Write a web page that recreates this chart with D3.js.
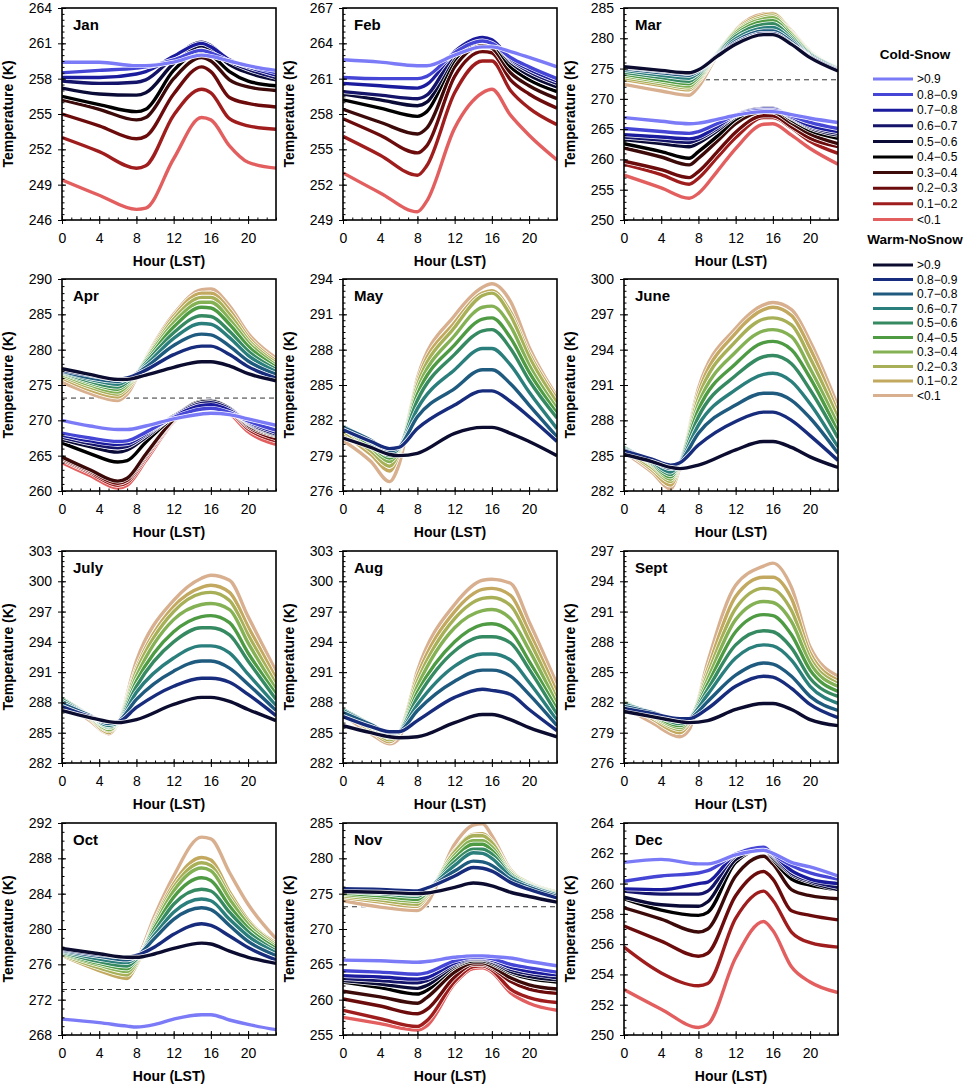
<!DOCTYPE html>
<html>
<head>
<meta charset="utf-8">
<script src="https://cdn.jsdelivr.net/npm/d3@7"></script>
<style>
  body { margin: 0; background: #fff; }
  svg { display: block; font-family: "Liberation Sans", Arial, Helvetica, sans-serif; }
</style>
</head>
<body>
<svg id="chart" width="964" height="1086"></svg>
<script>
// Diurnal temperature by snow-cover fraction class, one panel per month

const months = ["Jan", "Feb", "Mar", "Apr", "May", "June", "July", "Aug", "Sept", "Oct", "Nov", "Dec"];
const classLabels = [">0.9", "0.8\u22120.9", "0.7\u22120.8", "0.6\u22120.7", "0.5\u22120.6",
                     "0.4\u22120.5", "0.3\u22120.4", "0.2\u22120.3", "0.1\u22120.2", "<0.1"];
const coldColors = ["#7b7bf7", "#4646d6", "#1b1b9e", "#14146b", "#0b0b38",
                    "#000000", "#3d0a0a", "#6b0b0b", "#a01d1d", "#e35f5f"];
const warmColors = ["#0b0c30", "#172c7c", "#1f5a7f", "#2a7f7c", "#368a62",
                    "#4e9b43", "#85b155", "#a8b057", "#c2a95f", "#d8b08f"];

// y axis ranges and tick steps per month
const yMin = [246, 249, 250, 260, 276, 282, 282, 282, 276, 268, 255, 250];
const yMax = [264, 267, 285, 290, 294, 300, 303, 303, 297, 292, 285, 264];
const yStep = [3, 3, 5, 5, 3, 3, 3, 3, 3, 4, 5, 2];
const yMinor = [0.5, 0.5, 1, 1, 0.5, 0.5, 0.5, 0.5, 0.5, 1, 1, 0.5];
const hourTicks = [0, 4, 8, 12, 16, 20];
const freezing = 273.15;

// ---- Jan ----
const janHours = [0, 4, 8, 9, 12, 15, 16, 18, 20, 23];
const janCold = [
  [259.4, 259.4, 259.1, 259.1, 259.4, 260.0, 259.9, 259.5, 259.1, 258.7],
  [258.5, 258.7, 258.9, 259.0, 259.6, 260.4, 260.2, 259.5, 259.1, 258.5],
  [258.1, 258.1, 258.4, 258.6, 259.9, 261.0, 260.7, 259.6, 259.0, 258.3],
  [257.8, 257.6, 257.7, 257.9, 259.8, 261.1, 260.8, 259.5, 258.8, 258.1],
  [257.2, 256.7, 256.6, 256.8, 259.3, 260.8, 260.5, 259.2, 258.5, 257.9],
  [256.5, 255.8, 255.2, 255.4, 258.7, 260.3, 260.0, 258.6, 257.8, 257.4],
  [256.2, 255.4, 254.5, 254.7, 258.0, 259.8, 259.5, 257.9, 257.3, 257.0],
  [255.0, 254.0, 252.9, 253.1, 256.7, 259.0, 258.6, 256.4, 255.9, 255.6],
  [253.0, 251.8, 250.4, 250.6, 254.9, 257.1, 256.8, 254.6, 254.0, 253.7],
  [249.4, 248.1, 246.9, 247.0, 251.2, 254.7, 254.5, 252.3, 250.9, 250.4]
];

// ---- Feb ----
const febHours = [0, 4, 8, 9, 12, 15, 16, 18, 20, 23];
const febCold = [
  [262.6, 262.4, 262.1, 262.1, 263.0, 263.7, 263.7, 263.3, 262.8, 262.0],
  [261.1, 261.0, 261.0, 261.2, 263.2, 264.2, 264.0, 262.8, 262.0, 261.0],
  [260.6, 260.4, 260.2, 260.5, 263.3, 264.5, 264.3, 262.7, 261.8, 260.8],
  [259.9, 259.6, 259.3, 259.6, 263.1, 264.5, 264.3, 262.6, 261.6, 260.6],
  [259.7, 259.2, 258.7, 259.0, 262.9, 264.4, 264.2, 262.4, 261.3, 260.3],
  [259.2, 258.5, 257.8, 258.2, 262.6, 264.2, 264.0, 262.0, 260.9, 259.9],
  [258.4, 257.3, 256.3, 256.8, 262.0, 263.8, 263.6, 261.5, 260.4, 259.3],
  [257.6, 256.2, 254.7, 255.3, 261.2, 263.3, 263.2, 260.9, 259.7, 258.5],
  [256.1, 254.5, 252.8, 253.6, 259.8, 262.5, 262.5, 260.0, 258.5, 257.1],
  [253.0, 251.3, 249.7, 250.6, 256.8, 259.8, 260.1, 257.9, 256.2, 254.1]
];

// ---- Mar ----
const marHours = [0, 4, 7, 8, 10, 12, 15, 16, 18, 20, 23];
const marCold = [
  [266.9, 266.3, 265.9, 266.0, 266.6, 267.3, 267.9, 267.9, 267.4, 266.8, 266.1],
  [265.1, 264.6, 264.3, 264.6, 265.9, 267.3, 268.1, 268.1, 267.2, 266.1, 265.1],
  [264.1, 263.7, 263.4, 263.7, 265.4, 267.3, 268.3, 268.3, 267.0, 265.6, 264.6],
  [263.7, 263.2, 262.8, 263.3, 265.1, 267.3, 268.4, 268.4, 266.9, 265.4, 264.3],
  [263.3, 262.6, 262.1, 262.7, 264.7, 267.1, 268.4, 268.4, 266.8, 265.2, 264.0],
  [262.6, 261.3, 260.2, 261.3, 263.8, 266.6, 268.4, 268.3, 266.5, 264.8, 263.5],
  [261.9, 260.4, 259.1, 260.2, 263.0, 265.9, 267.9, 267.8, 266.0, 264.2, 262.6],
  [259.7, 258.3, 257.0, 258.0, 261.2, 264.5, 267.2, 267.2, 265.4, 263.5, 262.1],
  [259.2, 257.5, 255.9, 256.9, 260.3, 263.6, 266.9, 266.9, 265.2, 263.0, 261.0],
  [257.4, 255.3, 253.6, 254.4, 258.0, 261.8, 265.8, 265.9, 264.0, 261.8, 259.2]
];
const marWarm = [
  [275.3, 274.7, 274.3, 274.8, 277.0, 279.0, 280.6, 280.6, 279.0, 276.8, 274.6],
  [275.2, 274.6, 274.2, 274.8, 277.1, 279.2, 280.8, 280.8, 279.1, 276.9, 274.7],
  [275.0, 274.3, 273.9, 274.6, 277.2, 279.5, 281.2, 281.2, 279.4, 277.0, 274.8],
  [274.7, 273.9, 273.4, 274.3, 277.3, 279.9, 281.7, 281.8, 279.7, 277.2, 274.9],
  [274.4, 273.5, 272.9, 274.0, 277.4, 280.3, 282.3, 282.4, 280.0, 277.4, 275.0],
  [274.1, 273.1, 272.5, 273.7, 277.5, 280.6, 282.8, 282.9, 280.3, 277.5, 275.0],
  [273.8, 272.8, 272.1, 273.4, 277.5, 280.9, 283.2, 283.4, 280.6, 277.6, 275.1],
  [273.5, 272.5, 271.8, 273.1, 277.5, 281.1, 283.5, 283.7, 280.8, 277.7, 275.1],
  [273.2, 272.2, 271.5, 272.8, 277.4, 281.3, 283.8, 284.0, 281.0, 277.8, 275.1],
  [272.4, 271.3, 270.6, 272.0, 277.2, 281.4, 284.0, 284.1, 281.2, 277.8, 275.0]
];

// ---- Apr ----
const aprHours = [0, 3, 6, 7, 9, 12, 15, 16, 18, 20, 23];
const aprCold = [
  [270.0, 269.2, 268.7, 268.7, 269.2, 270.2, 270.9, 271.0, 270.8, 270.2, 269.3],
  [268.2, 267.5, 267.0, 267.1, 268.3, 270.4, 271.6, 271.7, 271.1, 269.9, 268.6],
  [267.9, 267.1, 266.6, 266.7, 268.1, 270.5, 272.1, 272.2, 271.4, 269.8, 268.3],
  [267.6, 266.7, 266.1, 266.3, 267.9, 270.6, 272.4, 272.5, 271.6, 269.7, 268.1],
  [267.3, 266.3, 265.5, 265.8, 267.6, 270.6, 272.6, 272.7, 271.7, 269.6, 268.0],
  [266.8, 265.3, 264.1, 264.3, 266.9, 270.5, 272.7, 272.8, 271.7, 269.5, 267.9],
  [264.8, 263.0, 261.4, 261.8, 265.2, 270.1, 272.6, 272.7, 271.6, 269.3, 267.8],
  [264.6, 262.8, 261.1, 261.5, 265.0, 270.0, 272.5, 272.6, 271.5, 269.1, 267.4],
  [264.4, 262.6, 260.8, 261.2, 264.7, 269.9, 272.4, 272.5, 271.3, 268.8, 267.1],
  [264.0, 262.2, 260.4, 260.8, 264.3, 269.8, 272.3, 272.4, 271.0, 268.4, 266.6]
];
const aprWarm = [
  [277.3, 276.5, 275.8, 275.8, 276.4, 277.5, 278.3, 278.3, 277.7, 276.6, 275.6],
  [277.1, 276.4, 275.8, 276.0, 277.1, 279.3, 280.5, 280.5, 279.3, 277.6, 276.0],
  [277.0, 276.0, 275.5, 275.9, 277.5, 280.6, 282.2, 282.1, 280.5, 278.4, 276.5],
  [276.9, 275.8, 275.1, 275.7, 277.8, 281.6, 283.7, 283.6, 281.7, 279.2, 276.9],
  [276.8, 275.5, 274.7, 275.4, 278.1, 282.4, 284.8, 284.7, 282.6, 279.8, 277.2],
  [276.7, 275.3, 274.4, 275.2, 278.3, 283.2, 286.0, 285.9, 283.6, 280.5, 277.5],
  [276.5, 275.0, 274.0, 274.9, 278.5, 283.8, 286.7, 286.7, 284.3, 281.0, 277.8],
  [276.3, 274.7, 273.7, 274.6, 278.6, 284.3, 287.4, 287.4, 285.0, 281.4, 278.1],
  [276.0, 274.3, 273.3, 274.2, 278.7, 284.7, 288.0, 288.0, 285.6, 281.8, 278.4],
  [275.4, 273.8, 272.8, 273.7, 278.8, 285.0, 288.5, 288.6, 286.2, 282.3, 278.8]
];

// ---- May ----
const mayHours = [0, 3, 5, 6, 8, 12, 15, 16, 18, 20, 23];
const mayWarm = [
  [280.5, 279.7, 279.1, 279.0, 279.2, 280.9, 281.4, 281.4, 280.9, 280.2, 279.0],
  [281.2, 280.2, 279.6, 279.7, 281.3, 283.3, 284.5, 284.5, 283.6, 282.3, 280.2],
  [281.4, 280.3, 279.4, 279.7, 282.3, 284.7, 286.3, 286.3, 285.1, 283.3, 280.6],
  [281.5, 280.2, 279.2, 279.6, 283.0, 286.3, 288.1, 288.1, 286.7, 284.4, 281.3],
  [281.5, 280.1, 279.0, 279.6, 283.7, 287.6, 289.6, 289.7, 288.1, 285.4, 282.2],
  [281.4, 279.9, 278.8, 279.5, 284.2, 288.4, 290.6, 290.7, 289.0, 286.1, 282.6],
  [281.3, 279.7, 278.5, 279.4, 284.6, 289.2, 291.6, 291.7, 290.0, 286.7, 283.0],
  [281.1, 279.4, 278.1, 279.3, 285.0, 289.9, 292.6, 292.8, 290.9, 287.4, 283.5],
  [280.9, 279.1, 277.7, 279.1, 285.3, 290.3, 292.8, 293.0, 291.2, 287.7, 283.8],
  [280.3, 278.5, 276.8, 278.2, 285.6, 290.9, 293.3, 293.6, 292.1, 288.2, 284.0]
];

// ---- June ----
const junHours = [0, 3, 5, 6, 8, 12, 15, 16, 18, 20, 23];
const junWarm = [
  [285.1, 284.5, 284.0, 283.9, 284.2, 285.5, 286.2, 286.2, 285.7, 284.9, 284.0],
  [285.4, 284.7, 284.2, 284.4, 285.9, 287.9, 288.7, 288.7, 288.0, 286.7, 284.6],
  [285.5, 284.6, 283.9, 284.4, 286.9, 289.3, 290.3, 290.3, 289.7, 288.2, 285.2],
  [285.6, 284.5, 283.6, 284.4, 287.6, 290.6, 291.9, 292.0, 291.3, 289.4, 285.7],
  [285.7, 284.4, 283.4, 284.4, 288.3, 291.8, 293.4, 293.5, 292.8, 290.6, 286.5],
  [285.7, 284.3, 283.2, 284.4, 288.9, 292.8, 294.6, 294.7, 294.0, 291.6, 287.0],
  [285.7, 284.2, 283.0, 284.4, 289.4, 293.8, 295.6, 295.7, 295.1, 292.4, 287.6],
  [285.6, 284.0, 282.8, 284.3, 289.9, 294.7, 296.6, 296.7, 296.1, 293.3, 288.2],
  [285.5, 283.8, 282.5, 284.2, 290.3, 295.4, 297.4, 297.6, 296.9, 294.1, 288.6],
  [285.3, 283.6, 282.2, 284.0, 290.7, 295.8, 297.8, 298.0, 297.4, 294.7, 289.2]
];

// ---- July ----
const julHours = [0, 3, 5, 6, 8, 12, 15, 16, 18, 20, 23];
const julWarm = [
  [287.2, 286.5, 286.1, 286.0, 286.3, 287.8, 288.5, 288.5, 288.1, 287.3, 286.2],
  [287.6, 286.6, 286.1, 286.1, 287.5, 289.6, 290.4, 290.4, 290.0, 288.8, 286.7],
  [287.9, 286.7, 285.9, 286.1, 288.3, 291.1, 292.1, 292.1, 291.4, 289.8, 287.2],
  [288.1, 286.7, 285.7, 286.0, 289.0, 292.4, 293.6, 293.6, 292.9, 290.8, 287.7],
  [288.3, 286.7, 285.6, 286.0, 289.6, 294.0, 295.4, 295.4, 294.7, 292.1, 288.3],
  [288.4, 286.7, 285.5, 286.0, 290.1, 295.0, 296.5, 296.6, 295.9, 292.9, 288.8],
  [288.4, 286.6, 285.3, 286.0, 290.6, 296.2, 297.7, 297.8, 297.2, 293.9, 289.3],
  [288.3, 286.5, 285.2, 286.0, 291.1, 297.0, 298.8, 298.9, 298.1, 294.7, 289.8],
  [288.2, 286.4, 285.0, 286.0, 291.4, 297.5, 299.4, 299.6, 298.9, 295.5, 290.4],
  [288.0, 286.2, 284.9, 285.9, 292.1, 298.1, 300.3, 300.6, 300.1, 296.5, 291.1]
];

// ---- Aug ----
const augHours = [0, 3, 5, 6, 8, 12, 15, 16, 18, 20, 23];
const augWarm = [
  [285.7, 285.0, 284.6, 284.5, 284.6, 286.0, 286.8, 286.8, 286.3, 285.5, 284.6],
  [286.6, 285.6, 285.1, 285.1, 286.2, 288.5, 289.3, 289.2, 288.8, 287.3, 285.2],
  [287.0, 285.8, 285.0, 285.1, 287.2, 290.1, 291.2, 291.2, 290.6, 288.8, 285.7],
  [287.2, 285.8, 284.9, 285.1, 287.8, 291.6, 292.8, 292.8, 292.2, 290.0, 286.2],
  [287.3, 285.8, 284.8, 285.1, 288.5, 293.1, 294.5, 294.5, 293.9, 291.3, 286.8],
  [287.3, 285.7, 284.6, 285.0, 289.0, 294.0, 295.7, 295.8, 295.0, 292.1, 287.3],
  [287.3, 285.6, 284.5, 285.0, 289.6, 295.4, 297.1, 297.2, 296.3, 293.2, 287.8],
  [287.2, 285.4, 284.3, 285.0, 290.1, 296.3, 298.3, 298.4, 297.6, 294.2, 288.3],
  [287.0, 285.2, 284.1, 284.9, 290.6, 297.0, 299.2, 299.3, 298.6, 295.0, 289.0],
  [286.8, 284.9, 283.9, 284.4, 291.1, 297.7, 300.1, 300.2, 299.8, 296.0, 289.8]
];

// ---- Sept ----
const sepHours = [0, 3, 6, 7, 9, 12, 15, 16, 18, 20, 23];
const sepWarm = [
  [281.1, 280.6, 280.1, 280.0, 280.2, 281.3, 281.9, 281.9, 281.3, 280.3, 279.7],
  [281.4, 280.9, 280.4, 280.4, 281.4, 283.6, 284.6, 284.5, 283.4, 281.8, 280.5],
  [281.6, 281.0, 280.3, 280.4, 282.1, 284.7, 285.9, 285.8, 284.6, 282.6, 281.2],
  [281.8, 281.0, 280.1, 280.4, 282.8, 286.4, 287.7, 287.6, 286.2, 283.6, 281.9],
  [281.9, 280.9, 279.9, 280.3, 283.3, 287.7, 289.1, 289.0, 287.4, 284.4, 282.6],
  [282.0, 280.8, 279.7, 280.3, 283.8, 289.0, 290.7, 290.6, 288.7, 285.2, 283.1],
  [282.1, 280.7, 279.5, 280.2, 284.3, 290.2, 292.0, 291.9, 290.0, 285.9, 283.6],
  [282.1, 280.6, 279.3, 280.1, 284.8, 291.3, 293.3, 293.2, 291.1, 286.4, 283.9],
  [282.0, 280.4, 279.0, 279.9, 285.3, 292.5, 294.4, 294.4, 292.3, 286.9, 284.2],
  [281.6, 280.0, 278.6, 279.3, 286.0, 293.6, 295.5, 295.8, 293.4, 287.5, 284.6]
];

// ---- Oct ----
const octHours = [0, 4, 7, 8, 10, 12, 15, 16, 18, 20, 23];
const octCold = [
  [269.8, 269.4, 269.0, 268.9, 269.2, 269.8, 270.3, 270.3, 269.7, 269.2, 268.6]
];
const octWarm = [
  [277.8, 277.2, 276.8, 276.8, 277.2, 277.8, 278.4, 278.3, 277.5, 276.8, 276.1],
  [277.7, 277.1, 276.8, 277.0, 278.0, 279.4, 280.6, 280.4, 279.2, 277.9, 276.5],
  [277.6, 276.9, 276.5, 276.9, 279.0, 281.1, 282.4, 282.2, 280.4, 278.6, 277.0],
  [277.5, 276.6, 276.2, 276.8, 279.4, 281.9, 283.4, 283.2, 281.1, 279.2, 277.3],
  [277.4, 276.3, 275.8, 276.6, 279.8, 282.8, 284.5, 284.3, 281.9, 279.7, 277.5],
  [277.3, 276.1, 275.5, 276.5, 280.2, 283.6, 285.8, 285.5, 282.6, 280.1, 277.8],
  [277.2, 275.9, 275.2, 276.3, 280.5, 284.3, 286.9, 286.6, 283.4, 280.5, 278.0],
  [277.1, 275.6, 274.8, 276.1, 280.8, 284.7, 287.5, 287.2, 283.8, 280.8, 278.2],
  [277.0, 275.3, 274.4, 275.9, 281.0, 285.1, 288.1, 287.8, 284.2, 281.0, 278.4],
  [277.2, 275.8, 275.2, 276.4, 281.6, 286.0, 290.4, 290.2, 286.4, 282.8, 278.9]
];

// ---- Nov ----
const novHours = [0, 4, 8, 9, 12, 14, 15, 16, 18, 20, 23];
const novCold = [
  [265.6, 265.5, 265.3, 265.4, 266.0, 266.2, 266.2, 266.1, 265.9, 265.4, 264.8],
  [264.1, 263.9, 263.6, 263.8, 265.5, 266.0, 266.0, 265.8, 265.0, 264.5, 263.9],
  [263.4, 263.2, 262.9, 263.1, 265.2, 265.9, 265.9, 265.6, 264.6, 264.0, 263.5],
  [263.0, 262.7, 262.4, 262.7, 265.0, 265.8, 265.8, 265.5, 264.3, 263.7, 263.1],
  [262.7, 262.2, 261.6, 262.0, 264.8, 265.7, 265.7, 265.3, 264.0, 263.3, 262.8],
  [262.5, 261.7, 260.8, 261.3, 264.6, 265.5, 265.5, 265.1, 263.8, 263.0, 262.5],
  [261.2, 260.4, 259.5, 260.3, 263.9, 265.2, 265.2, 264.7, 263.1, 262.1, 261.5],
  [260.1, 259.1, 258.0, 258.6, 263.2, 265.0, 265.0, 264.5, 262.6, 261.5, 260.9],
  [258.5, 257.3, 256.2, 257.0, 262.6, 264.7, 264.8, 264.2, 261.5, 260.3, 259.6],
  [257.5, 256.6, 255.7, 256.3, 262.3, 264.4, 264.5, 263.9, 261.0, 259.5, 258.5]
];
const novWarm = [
  [275.3, 275.2, 275.0, 275.1, 275.9, 276.5, 276.4, 276.1, 275.2, 274.6, 273.8],
  [275.7, 275.6, 275.4, 275.8, 277.5, 278.7, 278.6, 278.2, 276.6, 275.6, 274.4],
  [275.6, 275.4, 275.2, 275.7, 278.2, 279.6, 279.5, 279.0, 277.0, 275.9, 274.6],
  [275.5, 275.2, 274.9, 275.6, 279.0, 280.8, 280.7, 280.0, 277.4, 276.1, 274.8],
  [275.3, 275.0, 274.6, 275.4, 279.5, 281.3, 281.3, 280.6, 277.6, 276.2, 274.9],
  [275.1, 274.7, 274.2, 275.2, 280.0, 282.0, 282.0, 281.1, 277.8, 276.3, 275.0],
  [274.9, 274.4, 273.9, 275.0, 280.4, 282.5, 282.5, 281.6, 277.9, 276.4, 275.1],
  [274.7, 274.1, 273.5, 274.8, 280.9, 283.2, 283.2, 282.2, 278.1, 276.5, 275.2],
  [274.5, 273.8, 273.2, 274.5, 281.1, 283.4, 283.5, 282.4, 278.2, 276.5, 275.2],
  [274.0, 273.1, 272.6, 273.6, 282.0, 284.7, 284.9, 283.2, 278.4, 276.4, 274.8]
];

// ---- Dec ----
const decHours = [0, 4, 8, 9, 12, 15, 16, 18, 20, 23];
const decCold = [
  [261.4, 261.6, 261.3, 261.3, 261.9, 262.2, 262.0, 261.4, 261.1, 260.5],
  [260.15, 260.5, 260.7, 260.85, 261.95, 262.4, 261.95, 261.2, 260.7, 260.3],
  [259.65, 259.6, 260.0, 260.1, 261.95, 262.4, 261.95, 260.85, 260.3, 260.0],
  [259.5, 259.3, 259.3, 259.5, 261.85, 262.35, 261.85, 260.7, 260.2, 259.75],
  [259.1, 258.6, 258.5, 258.8, 261.6, 262.3, 261.7, 260.6, 260.1, 259.6],
  [259.0, 258.25, 257.9, 258.1, 261.4, 262.3, 261.6, 260.3, 259.9, 259.6],
  [258.4, 257.65, 256.8, 257.0, 260.5, 261.8, 261.3, 259.6, 259.2, 259.0],
  [257.2, 256.2, 255.2, 255.4, 259.2, 260.8, 260.3, 258.2, 257.9, 257.6],
  [255.8, 254.1, 253.25, 253.4, 257.7, 259.5, 258.9, 256.8, 256.1, 255.8],
  [253.0, 251.7, 250.5, 250.7, 255.1, 257.5, 256.9, 254.5, 253.5, 252.8]
];

const panelHours = [janHours, febHours, marHours, aprHours, mayHours, junHours,
                    julHours, augHours, sepHours, octHours, novHours, decHours];
const panelCold = [janCold, febCold, marCold, aprCold, [], [], [], [], [], octCold, novCold, decCold];
const panelWarm = [[], [], marWarm, aprWarm, mayWarm, junWarm, julWarm, augWarm, sepWarm, octWarm, novWarm, []];

// layout
const plotW = 214, plotH = 212;
const colX = [62, 343, 624];
const rowY = [8, 279, 551, 823];

const svg = d3.select("#chart");
const defs = svg.append("defs");

months.forEach((name, i) => {
  const px = colX[i % 3], py = rowY[Math.floor(i / 3)];
  const g = svg.append("g").attr("transform", `translate(${px},${py})`);

  const x = d3.scaleLinear().domain([0, 23]).range([0, plotW]);
  const y = d3.scaleLinear().domain([yMin[i], yMax[i]]).range([plotH, 0]);

  const nMajor = Math.round((yMax[i] - yMin[i]) / yStep[i]);
  const majorY = d3.range(nMajor + 1).map(k => yMin[i] + k * yStep[i]);
  const nMinor = Math.round((yMax[i] - yMin[i]) / yMinor[i]);
  const minorY = d3.range(nMinor + 1).map(k => yMin[i] + k * yMinor[i]);

  defs.append("clipPath").attr("id", "clip" + i)
    .append("rect").attr("width", plotW).attr("height", plotH);

  // freezing reference line
  if (yMin[i] < freezing && yMax[i] > freezing) {
    g.append("line")
      .attr("x1", 0).attr("x2", plotW)
      .attr("y1", y(freezing)).attr("y2", y(freezing))
      .attr("stroke", "#333").attr("stroke-width", 1)
      .attr("stroke-dasharray", "5,4");
  }

  const hours = panelHours[i];
  const line = d3.line()
    .x((d, j) => x(hours[j]))
    .y(d => y(d))
    .curve(d3.curveMonotoneX);

  const series = [];
  panelCold[i].forEach((v, k) => series.push({ v, k, color: coldColors[k] }));
  const warm = [];
  panelWarm[i].forEach((v, k) => warm.push({ v, k, color: warmColors[k] }));

  const lines = g.append("g").attr("clip-path", `url(#clip${i})`);
  // lowest class first so >0.9 ends up on top
  const ordered = series.slice().reverse().concat(warm.slice().reverse());
  ordered.forEach(s => {
    lines.append("path")
      .attr("d", line(s.v))
      .attr("fill", "none")
      .attr("stroke", "#fff")
      .attr("stroke-width", 4.8)
      .attr("stroke-linejoin", "round");
    lines.append("path")
      .attr("d", line(s.v))
      .attr("fill", "none")
      .attr("stroke", s.color)
      .attr("stroke-width", 3.4)
      .attr("stroke-linejoin", "round");
  });

  // axes
  const yMinorAxis = g.append("g")
    .call(d3.axisLeft(y).tickValues(minorY).tickSize(-2.5).tickFormat(""));
  const yAxis = g.append("g")
    .call(d3.axisLeft(y).tickValues(majorY).tickSize(4).tickPadding(6).tickFormat(d3.format("d")));
  const yInner = g.append("g")
    .call(d3.axisLeft(y).tickValues(majorY).tickSize(-4).tickFormat(""));
  const xMinorAxis = g.append("g").attr("transform", `translate(0,${plotH})`)
    .call(d3.axisBottom(x).tickValues(d3.range(0, 24)).tickSize(-2.5).tickFormat(""));
  const xAxis = g.append("g").attr("transform", `translate(0,${plotH})`)
    .call(d3.axisBottom(x).tickValues(hourTicks).tickSize(4).tickPadding(9));
  const xInner = g.append("g").attr("transform", `translate(0,${plotH})`)
    .call(d3.axisBottom(x).tickValues(hourTicks).tickSize(-4).tickFormat(""));

  [yMinorAxis, yAxis, yInner, xMinorAxis, xAxis, xInner].forEach(a => {
    a.select(".domain").remove();
    a.selectAll(".tick line").attr("stroke", "#000").attr("stroke-width", 1);
    a.selectAll("text")
      .attr("fill", "#000")
      .style("font-size", "14px")
      .style("font-family", "'Liberation Sans', Arial, sans-serif");
  });

  g.append("rect")
    .attr("width", plotW).attr("height", plotH)
    .attr("fill", "none").attr("stroke", "#000").attr("stroke-width", 1.6);

  g.append("text")
    .attr("x", 11).attr("y", 22)
    .style("font-size", "15px").style("font-weight", "bold")
    .text(name);

  g.append("text")
    .attr("x", plotW / 2).attr("y", plotH + 46)
    .attr("text-anchor", "middle")
    .style("font-size", "14px").style("font-weight", "bold")
    .text("Hour (LST)");

  g.append("text")
    .attr("transform", `translate(-49,${plotH / 2}) rotate(-90)`)
    .attr("text-anchor", "middle")
    .style("font-size", "14px").style("font-weight", "bold")
    .text("Temperature (K)");
});

// legend
const legend = svg.append("g");
const legendGroups = [
  { title: "Cold-Snow", colors: coldColors, titleY: 59, top: 79, gap: 15.6 },
  { title: "Warm-NoSnow", colors: warmColors, titleY: 244, top: 265, gap: 14.5 }
];
legendGroups.forEach(grp => {
  legend.append("text")
    .attr("x", 915).attr("y", grp.titleY)
    .attr("text-anchor", "middle")
    .style("font-size", "13.5px").style("font-weight", "bold")
    .text(grp.title);
  classLabels.forEach((lab, k) => {
    const ly = grp.top + k * grp.gap;
    legend.append("line")
      .attr("x1", 873).attr("x2", 913)
      .attr("y1", ly).attr("y2", ly)
      .attr("stroke", grp.colors[k]).attr("stroke-width", 3);
    legend.append("text")
      .attr("x", 917).attr("y", ly).attr("dy", "0.35em")
      .style("font-size", "12px")
      .text(lab);
  });
});
</script>
</body>
</html>
